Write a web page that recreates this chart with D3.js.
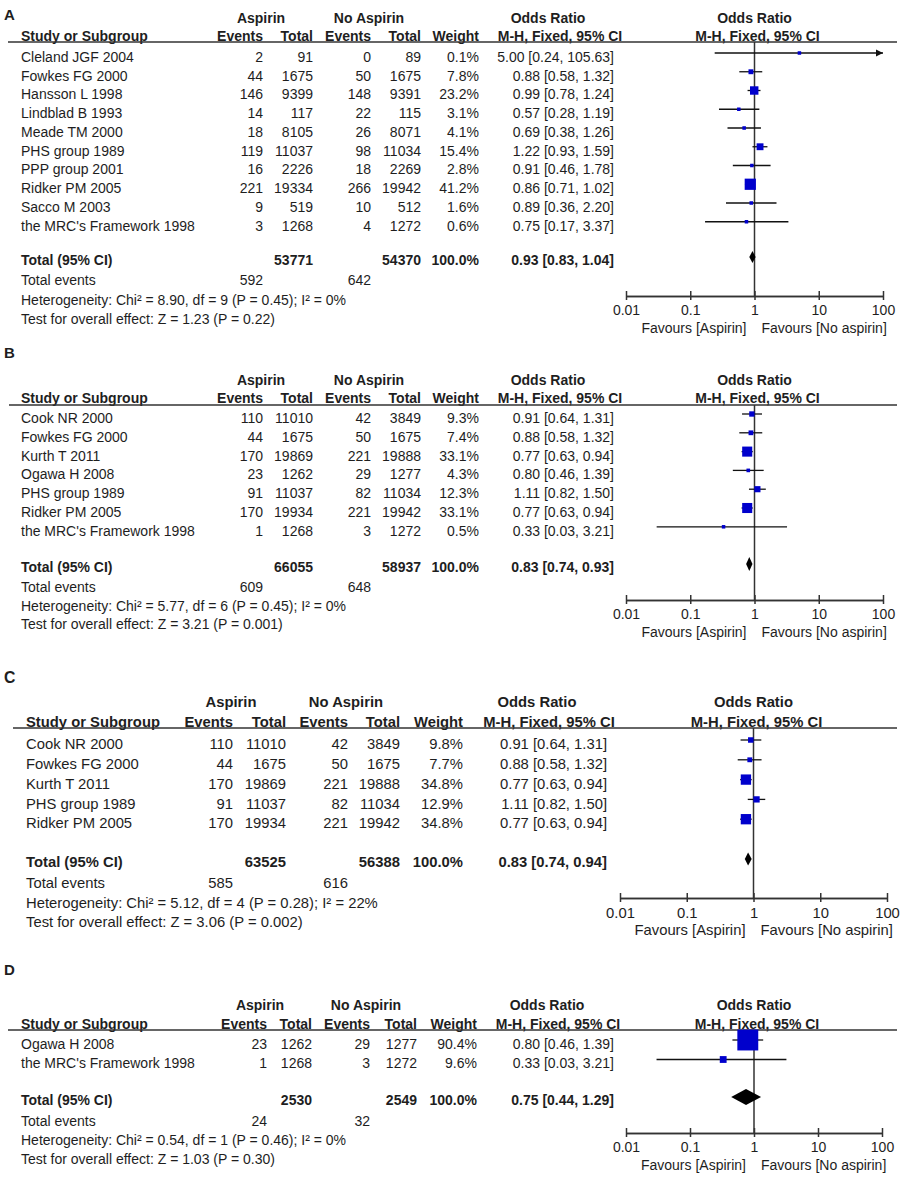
<!DOCTYPE html>
<html>
<head>
<meta charset="utf-8">
<script src="https://cdn.jsdelivr.net/npm/d3@7"></script>
<style>
  body { margin: 0; background: #fff; }
  svg text { font-family: "Liberation Sans", Arial, sans-serif; fill: #1e1e1e; }
</style>
</head>
<body>
<svg id="chart" width="905" height="1179"></svg>
<script>
// axis ticks shared by all four plots
var ticks = [0.01, 0.1, 1, 10, 100];
var tickLabels = ["0.01", "0.1", "1", "10", "100"];

// study, aspirin events, aspirin total, no-aspirin events, no-aspirin total, weight %, OR, lower, upper
var rowsA = [
    ["Cleland JGF 2004", 2, 91, 0, 89, 0.1, 5.00, 0.24, 105.63],
    ["Fowkes FG 2000", 44, 1675, 50, 1675, 7.8, 0.88, 0.58, 1.32],
    ["Hansson L 1998", 146, 9399, 148, 9391, 23.2, 0.99, 0.78, 1.24],
    ["Lindblad B 1993", 14, 117, 22, 115, 3.1, 0.57, 0.28, 1.19],
    ["Meade TM 2000", 18, 8105, 26, 8071, 4.1, 0.69, 0.38, 1.26],
    ["PHS group 1989", 119, 11037, 98, 11034, 15.4, 1.22, 0.93, 1.59],
    ["PPP group 2001", 16, 2226, 18, 2269, 2.8, 0.91, 0.46, 1.78],
    ["Ridker PM 2005", 221, 19334, 266, 19942, 41.2, 0.86, 0.71, 1.02],
    ["Sacco M 2003", 9, 519, 10, 512, 1.6, 0.89, 0.36, 2.20],
    ["the MRC's Framework 1998", 3, 1268, 4, 1272, 0.6, 0.75, 0.17, 3.37]
];
// aspirin total, no-aspirin total, aspirin events, no-aspirin events, OR, lower, upper
var totalA = [53771, 54370, 592, 642, 0.93, 0.83, 1.04];
var statsA = ["Heterogeneity: Chi\u00b2 = 8.90, df = 9 (P = 0.45); I\u00b2 = 0%",
              "Test for overall effect: Z = 1.23 (P = 0.22)"];

var rowsB = [
    ["Cook NR 2000", 110, 11010, 42, 3849, 9.3, 0.91, 0.64, 1.31],
    ["Fowkes FG 2000", 44, 1675, 50, 1675, 7.4, 0.88, 0.58, 1.32],
    ["Kurth T 2011", 170, 19869, 221, 19888, 33.1, 0.77, 0.63, 0.94],
    ["Ogawa H 2008", 23, 1262, 29, 1277, 4.3, 0.80, 0.46, 1.39],
    ["PHS group 1989", 91, 11037, 82, 11034, 12.3, 1.11, 0.82, 1.50],
    ["Ridker PM 2005", 170, 19934, 221, 19942, 33.1, 0.77, 0.63, 0.94],
    ["the MRC's Framework 1998", 1, 1268, 3, 1272, 0.5, 0.33, 0.03, 3.21]
];
var totalB = [66055, 58937, 609, 648, 0.83, 0.74, 0.93];
var statsB = ["Heterogeneity: Chi\u00b2 = 5.77, df = 6 (P = 0.45); I\u00b2 = 0%",
              "Test for overall effect: Z = 3.21 (P = 0.001)"];

var rowsC = [
    ["Cook NR 2000", 110, 11010, 42, 3849, 9.8, 0.91, 0.64, 1.31],
    ["Fowkes FG 2000", 44, 1675, 50, 1675, 7.7, 0.88, 0.58, 1.32],
    ["Kurth T 2011", 170, 19869, 221, 19888, 34.8, 0.77, 0.63, 0.94],
    ["PHS group 1989", 91, 11037, 82, 11034, 12.9, 1.11, 0.82, 1.50],
    ["Ridker PM 2005", 170, 19934, 221, 19942, 34.8, 0.77, 0.63, 0.94]
];
var totalC = [63525, 56388, 585, 616, 0.83, 0.74, 0.94];
var statsC = ["Heterogeneity: Chi\u00b2 = 5.12, df = 4 (P = 0.28); I\u00b2 = 22%",
              "Test for overall effect: Z = 3.06 (P = 0.002)"];

var rowsD = [
    ["Ogawa H 2008", 23, 1262, 29, 1277, 90.4, 0.80, 0.46, 1.39],
    ["the MRC's Framework 1998", 1, 1268, 3, 1272, 9.6, 0.33, 0.03, 3.21]
];
var totalD = [2530, 2549, 24, 32, 0.75, 0.44, 1.29];
var statsD = ["Heterogeneity: Chi\u00b2 = 0.54, df = 1 (P = 0.46); I\u00b2 = 0%",
              "Test for overall effect: Z = 1.03 (P = 0.30)"];

// layout of each panel (pixel positions)
var layoutA = {name: "A", font: 14, label: 15, h1: 18, h2: 36, rule: 42, row0: 57, step: 18.75,
    total: 260, tev: 280, het: 300, test: 319, axisY: 296, ruleX: [8, 897],
    cols: {name: 21, ev1: 263, tot1: 313, ev2: 371, tot2: 421, wt: 479, or: 614, orHead: 548, mhHead: 560, asp: 261, noasp: 369},
    xr: [626, 883], box: 17.5, dia: 12};
var layoutB = {name: "B", font: 14, label: 353, h1: 380, h2: 398, rule: 405, row0: 418, step: 18.8,
    total: 567, tev: 587, het: 606, test: 624, axisY: 600, ruleX: [9, 897],
    cols: {name: 21, ev1: 263, tot1: 313, ev2: 371, tot2: 421, wt: 479, or: 614, orHead: 548, mhHead: 560, asp: 261, noasp: 369},
    xr: [626, 883], box: 17.5, dia: 14};
var layoutC = {name: "C", font: 14.8, label: 677, h1: 702, h2: 722, rule: 728, row0: 744, step: 19.8,
    total: 862, tev: 883, het: 903, test: 922, axisY: 898, ruleX: [13, 897],
    cols: {name: 26, ev1: 233, tot1: 286, ev2: 348, tot2: 400, wt: 463, or: 607, orHead: 537, mhHead: 549, asp: 231, noasp: 346},
    xr: [620, 887], box: 17.5, dia: 13};
var layoutD = {name: "D", font: 14, label: 970, h1: 1005, h2: 1024, rule: 1030, row0: 1044, step: 19.5,
    total: 1100, tev: 1121, het: 1140, test: 1159, axisY: 1133, ruleX: [8, 897],
    cols: {name: 21, ev1: 267, tot1: 312, ev2: 370, tot2: 417, wt: 477, or: 614, orHead: 547, mhHead: 558, asp: 260, noasp: 366},
    xr: [626, 882], box: 22, dia: 16};

var svg = d3.select("#chart");
var f1 = d3.format(".1f"), f2 = d3.format(".2f");
function ciText(or, lo, hi) { return f2(or) + " [" + f2(lo) + ", " + f2(hi) + "]"; }

function drawPanel(p, rows, total, stats) {
    var g = svg.append("g").style("font-size", p.font + "px");
    var c = p.cols;
    var x = d3.scaleLog().domain([ticks[0], ticks[ticks.length - 1]]).range(p.xr);
    var side = d3.scaleSqrt().domain([0, 100]).range([0, p.box]);
    var y = d3.scaleLinear().domain([0, 1]).range([p.row0, p.row0 + p.step]);
    var off = -4; // marks sit a little above the text centre

    function text(xp, yp, s, anchor, bold) {
        return g.append("text")
            .attr("x", xp).attr("y", yp).attr("dy", "0.35em")
            .attr("text-anchor", anchor || "start")
            .attr("font-weight", bold ? "bold" : null)
            .text(s);
    }

    // panel letter
    text(4, p.label, p.name, "start", true).style("font-size", (p.font + 1) + "px");

    // column headers
    text(c.asp, p.h1, "Aspirin", "middle", true);
    text(c.noasp, p.h1, "No Aspirin", "middle", true);
    text(c.orHead, p.h1, "Odds Ratio", "middle", true);
    text(x(1), p.h1, "Odds Ratio", "middle", true);
    text(c.name, p.h2, "Study or Subgroup", "start", true);
    text(c.ev1, p.h2, "Events", "end", true);
    text(c.tot1, p.h2, "Total", "end", true);
    text(c.ev2, p.h2, "Events", "end", true);
    text(c.tot2, p.h2, "Total", "end", true);
    text(c.wt, p.h2, "Weight", "end", true);
    text(c.mhHead, p.h2, "M-H, Fixed, 95% CI", "middle", true);
    text(x(1) + 3, p.h2, "M-H, Fixed, 95% CI", "middle", true);

    g.append("line")
        .attr("x1", p.ruleX[0]).attr("x2", p.ruleX[1])
        .attr("y1", p.rule).attr("y2", p.rule)
        .attr("stroke", "#333").attr("stroke-width", 1.5);

    // study rows
    rows.forEach(function (r, i) {
        var yy = y(i);
        text(c.name, yy, r[0]);
        text(c.ev1, yy, r[1], "end");
        text(c.tot1, yy, r[2], "end");
        text(c.ev2, yy, r[3], "end");
        text(c.tot2, yy, r[4], "end");
        text(c.wt, yy, f1(r[5]) + "%", "end");
        text(c.or, yy, ciText(r[6], r[7], r[8]), "end");
    });

    // totals
    text(c.name, p.total, "Total (95% CI)", "start", true);
    text(c.tot1, p.total, total[0], "end", true);
    text(c.tot2, p.total, total[1], "end", true);
    text(c.wt, p.total, "100.0%", "end", true);
    text(c.or, p.total, ciText(total[4], total[5], total[6]), "end", true);
    text(c.name, p.tev, "Total events");
    text(c.ev1, p.tev, total[2], "end");
    text(c.ev2, p.tev, total[3], "end");
    text(c.name, p.het, stats[0]);
    text(c.name, p.test, stats[1]);

    // line of no effect
    g.append("line")
        .attr("x1", x(1)).attr("x2", x(1))
        .attr("y1", p.rule).attr("y2", p.axisY)
        .attr("stroke", "#333").attr("stroke-width", 1.5);

    var lo = x.domain()[0], hi = x.domain()[1];

    // confidence intervals
    g.selectAll(".ci").data(rows).enter().append("line")
        .attr("class", "ci")
        .attr("x1", function (d) { return x(Math.max(d[7], lo)); })
        .attr("x2", function (d) { return x(Math.min(d[8], hi)); })
        .attr("y1", function (d, i) { return y(i) + off; })
        .attr("y2", function (d, i) { return y(i) + off; })
        .attr("stroke", "#111").attr("stroke-width", 1.3);

    // arrows for intervals running off the scale
    g.selectAll(".arrow").data(rows.filter(function (d) { return d[8] > hi; })).enter().append("path")
        .attr("class", "arrow")
        .attr("d", function (d) {
            var i = rows.indexOf(d), xx = x(hi), yy = y(i) + off;
            return "M" + (xx - 7) + "," + (yy - 3.5) + "L" + xx + "," + yy + "L" + (xx - 7) + "," + (yy + 3.5) + "Z";
        })
        .attr("fill", "#111");

    // weighted boxes
    g.selectAll(".box").data(rows).enter().append("rect")
        .attr("class", "box")
        .attr("x", function (d) { return x(d[6]) - Math.max(3.5, side(d[5])) / 2; })
        .attr("y", function (d, i) { return y(i) + off - Math.max(3.5, side(d[5])) / 2; })
        .attr("width", function (d) { return Math.max(3.5, side(d[5])); })
        .attr("height", function (d) { return Math.max(3.5, side(d[5])); })
        .attr("fill", "#0000cc");

    // pooled diamond
    var dy = p.total - 3;
    g.append("path")
        .attr("d", "M" + x(total[5]) + "," + dy +
                   "L" + x(total[4]) + "," + (dy - p.dia / 2) +
                   "L" + x(total[6]) + "," + dy +
                   "L" + x(total[4]) + "," + (dy + p.dia / 2) + "Z")
        .attr("fill", "#000");

    // log axis: ticks up and down
    var axG = g.append("g").attr("transform", "translate(0," + p.axisY + ")");
    axG.call(d3.axisBottom(x).tickValues(ticks)
        .tickFormat(function (d, i) { return tickLabels[i]; })
        .tickSizeInner(4).tickSizeOuter(0).tickPadding(5));
    axG.call(function (a) {
        a.append("g").call(d3.axisTop(x).tickValues(ticks).tickFormat("").tickSizeInner(5).tickSizeOuter(0));
    });
    axG.selectAll("path, line").attr("stroke", "#333").attr("stroke-width", 1.5);
    axG.selectAll("text").style("font-size", p.font + "px").attr("fill", "#1e1e1e")
        .style("font-family", "\"Liberation Sans\", Arial, sans-serif");

    text(x(1) - 8, p.axisY + 32, "Favours [Aspirin]", "end");
    text(x(1) + 7, p.axisY + 32, "Favours [No aspirin]", "start");
}

drawPanel(layoutA, rowsA, totalA, statsA);
drawPanel(layoutB, rowsB, totalB, statsB);
drawPanel(layoutC, rowsC, totalC, statsC);
drawPanel(layoutD, rowsD, totalD, statsD);
</script>
</body>
</html>
